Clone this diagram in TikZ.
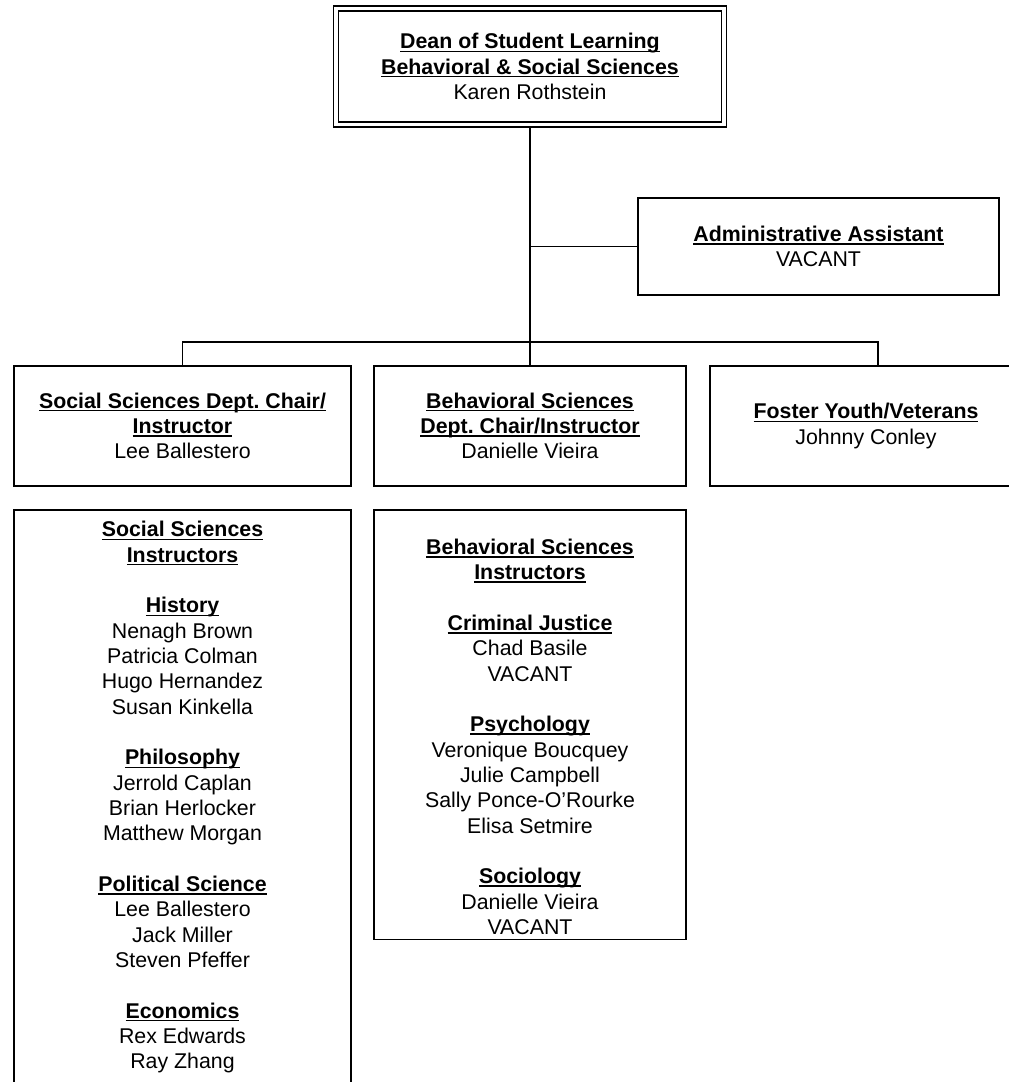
\documentclass[tikz,border=0pt]{standalone}
\usepackage{fontspec}
\setmainfont{Liberation Sans}
\usetikzlibrary{positioning}
\frenchspacing
\newsavebox{\hdbox}
\newcommand{\hd}[1]{{\bfseries\sbox{\hdbox}{#1}\rlap{\rule[-2.4pt]{\wd\hdbox}{1.1pt}}\usebox{\hdbox}}}

\begin{document}
\begin{tikzpicture}
[
	x=0.75pt, y=-0.75pt,
	node distance = 18pt,
	post/.style={draw, rectangle, line width=1.1pt, outer sep=0pt, align=center, font=\fontsize{16}{19}\selectfont},
	chair/.style={post, minimum width=#1, minimum height=90pt},
	link/.style={line width=1.1pt}
  ]
	\useasboundingbox (0,0) rectangle (1008,1082);

	\node[post, double, double distance=2.6pt, outer sep=2.4pt, minimum width=291pt, minimum height=87pt] (Dean) at (530,66.5) {\hd{Dean of Student Learning}\\ \hd{Behavioral \& Social Sciences}\\ Karen Rothstein};
	\node[post, minimum width=270.75pt, minimum height=72.75pt] (Admin) at (818.5,246.5) {\hd{Administrative Assistant}\\ VACANT};

	\node[chair=252.75pt] (SSChair) at (182.5,426) {\hd{Social Sciences Dept. Chair/}\\ \hd{Instructor}\\ Lee Ballestero};
	\node[chair=234pt, right=17.25pt of SSChair] (BSChair) {\hd{Behavioral Sciences}\\ \hd{Dept. Chair/Instructor}\\ Danielle Vieira};
	\node[chair=234pt, right=of BSChair] (Foster) {\hd{Foster Youth/Veterans}\\ Johnny Conley};

	\node[post, minimum width=252.75pt, inner ysep=8.6pt, below=of SSChair] (SSInst) {\hd{Social Sciences}\\ \hd{Instructors}\\[19pt]
		\hd{History}\\ Nenagh Brown\\ Patricia Colman\\ Hugo Hernandez\\ Susan Kinkella\\[19pt]
		\hd{Philosophy}\\ Jerrold Caplan\\ Brian Herlocker\\ Matthew Morgan\\[19pt]
		\hd{Political Science}\\ Lee Ballestero\\ Jack Miller\\ Steven Pfeffer\\[19pt]
		\hd{Economics}\\ Rex Edwards\\ Ray Zhang};
	\node[post, minimum width=234pt, inner ysep=3.75pt, below=of BSChair] (BSInst) {\rule{0pt}{29.5pt}\hd{Behavioral Sciences}\\ \hd{Instructors}\\[19pt]
		\hd{Criminal Justice}\\ Chad Basile\\ VACANT\\[19pt]
		\hd{Psychology}\\ Veronique Boucquey\\ Julie Campbell\\ Sally Ponce-O’Rourke\\ Elisa Setmire\\[19pt]
		\hd{Sociology}\\ Danielle Vieira\\ VACANT};

	\coordinate[above=18pt of BSChair.north] (Bar);
	\draw[link] (Dean.south) -- (BSChair.north);
	\draw[link] (Admin.west) -- (Admin.west -| Dean.south);
	\draw[link] (SSChair.north) |- (Bar) -| ([xshift=9pt]Foster.north);
\end{tikzpicture}
\end{document}
